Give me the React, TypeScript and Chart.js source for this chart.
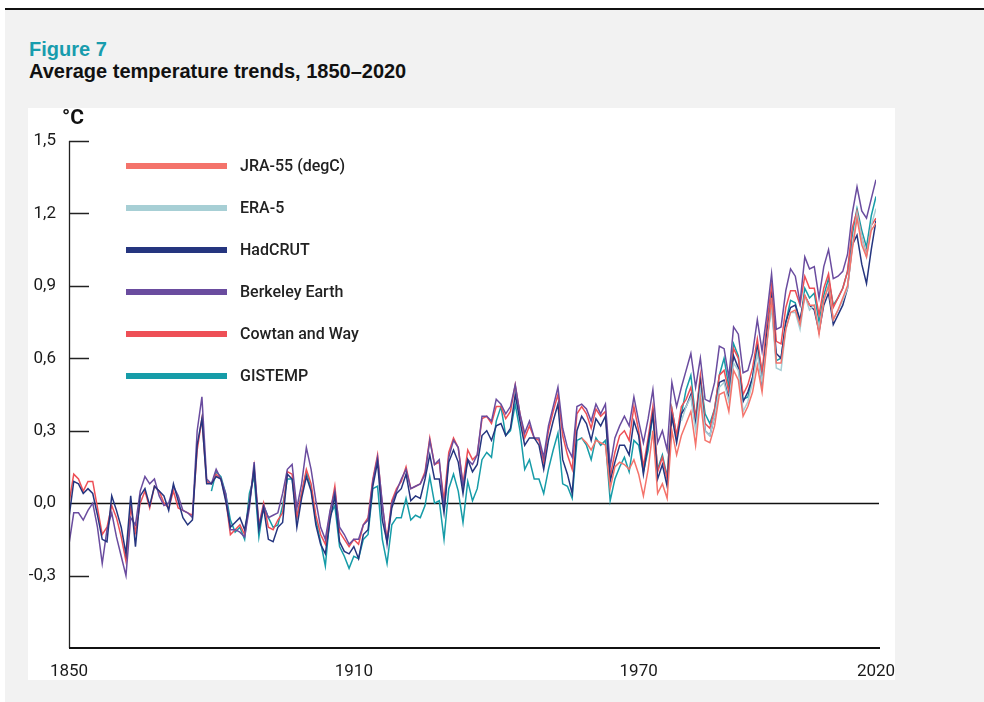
import React, { useEffect, useRef } from "react";
import { Chart, registerables } from "chart.js";

Chart.register(...registerables);

// ---- data ----
const seriesNames = ["JRA-55 (degC)", "ERA-5", "HadCRUT", "Berkeley Earth", "Cowtan and Way", "GISTEMP"];
const seriesColors = ["#f4736b", "#a7cfd5", "#25357f", "#6a4c9f", "#ee4f56", "#169ca8"];
const seriesStart = [1958, 1979, 1850, 1850, 1850, 1880];

const jra55 = [
  0.27, 0.25, 0.22, 0.26, 0.25, 0.24, 0.06, 0.15, 0.17, 0.16, 0.14, 0.18,
  0.12, 0.03, 0.14, 0.30, 0.04, 0.08, 0.02, 0.30, 0.20, 0.28,
  0.33, 0.38, 0.24, 0.43, 0.26, 0.25, 0.32, 0.45, 0.46, 0.38,
  0.55, 0.51, 0.36, 0.40, 0.46, 0.57, 0.46, 0.66, 0.85, 0.58,
  0.58, 0.72, 0.79, 0.80, 0.74, 0.86, 0.82, 0.82, 0.70, 0.84,
  0.90, 0.76, 0.80, 0.85, 0.90, 1.05, 1.18, 1.07, 1.02, 1.13,
  1.16,
];

const era5 = [
  0.34,
  0.40, 0.44, 0.30, 0.47, 0.30, 0.28, 0.36, 0.48, 0.50, 0.42,
  0.58, 0.55, 0.38, 0.42, 0.50, 0.62, 0.50, 0.66, 0.82, 0.56,
  0.55, 0.72, 0.79, 0.79, 0.72, 0.86, 0.80, 0.82, 0.72, 0.84,
  0.90, 0.76, 0.80, 0.84, 0.89, 1.06, 1.20, 1.10, 1.02, 1.15,
  1.22,
];

const hadcrut = [
  -0.06, 0.09, 0.08, 0.04, 0.06, 0.04, -0.05, -0.15, -0.16, 0.03,
  -0.03, -0.10, -0.21, 0.03, -0.18, 0.03, 0.06, -0.01, 0.07, 0.05,
  0.03, -0.03, 0.08, 0.01, -0.06, -0.09, -0.07, 0.24, 0.35, 0.08,
  0.08, 0.11, 0.10, 0.01, -0.10, -0.08, -0.06, -0.11, 0.00, 0.14,
  -0.11, -0.02, -0.15, -0.16, -0.10, -0.08, 0.12, 0.10, -0.10, 0.02,
  0.11, 0.05, -0.09, -0.17, -0.21, -0.07, 0.03, -0.16, -0.20, -0.21,
  -0.18, -0.23, -0.13, -0.11, 0.07, 0.17, -0.07, -0.16, -0.02, 0.04,
  0.06, 0.12, 0.01, 0.03, 0.02, 0.10, 0.20, 0.10, 0.10, -0.04,
  0.17, 0.22, 0.17, 0.04, 0.18, 0.13, 0.16, 0.28, 0.30, 0.26,
  0.32, 0.33, 0.28, 0.31, 0.45, 0.34, 0.24, 0.27, 0.27, 0.24,
  0.14, 0.26, 0.34, 0.41, 0.18, 0.12, 0.04, 0.30, 0.36, 0.33,
  0.26, 0.35, 0.32, 0.36, 0.09, 0.17, 0.24, 0.24, 0.20, 0.34,
  0.28, 0.12, 0.25, 0.37, 0.10, 0.16, 0.07, 0.36, 0.25, 0.37,
  0.40, 0.45, 0.32, 0.50, 0.30, 0.28, 0.36, 0.50, 0.51, 0.43,
  0.61, 0.56, 0.42, 0.46, 0.52, 0.64, 0.49, 0.70, 0.85, 0.62,
  0.60, 0.75, 0.81, 0.82, 0.76, 0.86, 0.82, 0.80, 0.71, 0.82,
  0.87, 0.74, 0.78, 0.82, 0.89, 1.07, 1.11, 0.99, 0.91, 1.05,
  1.17,
];

const berkeley = [
  -0.17, -0.04, -0.04, -0.07, -0.03, 0.00, -0.10, -0.25, -0.11, -0.04,
  -0.14, -0.22, -0.30, -0.06, -0.09, 0.05, 0.11, 0.08, 0.10, 0.03,
  -0.01, 0.00, 0.07, 0.03, -0.03, -0.04, -0.06, 0.30, 0.44, 0.10,
  0.08, 0.14, 0.10, 0.04, -0.11, -0.11, -0.12, -0.14, -0.02, 0.17,
  -0.10, -0.01, -0.06, -0.05, -0.04, 0.04, 0.14, 0.16, -0.02, 0.08,
  0.23, 0.14, 0.01, -0.10, -0.15, -0.03, 0.05, -0.10, -0.13, -0.17,
  -0.15, -0.15, -0.09, -0.07, 0.09, 0.19, 0.00, -0.17, 0.00, 0.05,
  0.10, 0.14, 0.06, 0.07, 0.08, 0.12, 0.26, 0.16, 0.18, -0.03,
  0.19, 0.26, 0.23, 0.07, 0.18, 0.16, 0.20, 0.36, 0.36, 0.34,
  0.43, 0.41, 0.37, 0.40, 0.49, 0.37, 0.29, 0.34, 0.27, 0.27,
  0.19, 0.32, 0.40, 0.48, 0.31, 0.23, 0.19, 0.40, 0.41, 0.39,
  0.34, 0.41, 0.37, 0.41, 0.15, 0.27, 0.32, 0.36, 0.32, 0.44,
  0.34, 0.25, 0.35, 0.47, 0.25, 0.30, 0.22, 0.50, 0.40, 0.48,
  0.55, 0.62, 0.48, 0.60, 0.43, 0.42, 0.50, 0.65, 0.64, 0.52,
  0.73, 0.70, 0.54, 0.55, 0.62, 0.76, 0.63, 0.78, 0.95, 0.72,
  0.73, 0.88, 0.97, 0.94, 0.83, 1.02, 0.97, 0.98, 0.85, 0.98,
  1.05, 0.93, 0.94, 0.96, 1.03, 1.20, 1.31, 1.21, 1.18, 1.26,
  1.34,
];

const cowtanWay = [
  0.00, 0.12, 0.10, 0.05, 0.09, 0.09, -0.02, -0.13, -0.10, -0.01,
  -0.06, -0.14, -0.24, -0.02, -0.12, 0.00, 0.05, -0.02, 0.07, 0.05,
  0.00, -0.02, 0.05, -0.02, -0.03, -0.04, -0.05, 0.22, 0.35, 0.09,
  0.08, 0.12, 0.10, 0.02, -0.13, -0.11, -0.09, -0.13, 0.00, 0.15,
  -0.09, 0.00, -0.10, -0.11, -0.07, -0.04, 0.13, 0.12, -0.06, 0.04,
  0.14, 0.08, -0.05, -0.13, -0.17, -0.04, 0.07, -0.12, -0.15, -0.18,
  -0.15, -0.17, -0.09, -0.06, 0.10, 0.20, -0.01, -0.15, 0.01, 0.06,
  0.09, 0.15, 0.06, 0.07, 0.08, 0.13, 0.27, 0.16, 0.17, 0.01,
  0.21, 0.27, 0.23, 0.08, 0.22, 0.18, 0.20, 0.35, 0.36, 0.33,
  0.40, 0.40, 0.35, 0.38, 0.49, 0.37, 0.27, 0.32, 0.27, 0.26,
  0.17, 0.30, 0.38, 0.45, 0.28, 0.20, 0.14, 0.37, 0.40, 0.37,
  0.31, 0.39, 0.36, 0.38, 0.11, 0.21, 0.28, 0.30, 0.26, 0.40,
  0.30, 0.15, 0.27, 0.40, 0.13, 0.19, 0.10, 0.39, 0.28, 0.40,
  0.43, 0.48, 0.35, 0.53, 0.33, 0.31, 0.39, 0.53, 0.55, 0.46,
  0.64, 0.60, 0.45, 0.49, 0.56, 0.68, 0.54, 0.74, 0.90, 0.67,
  0.66, 0.81, 0.88, 0.88, 0.82, 0.94, 0.89, 0.89, 0.78, 0.89,
  0.95, 0.81, 0.85, 0.89, 0.96, 1.14, 1.21, 1.10, 1.03, 1.15,
  1.18,
];

const gistemp = [
  0.05, 0.13, 0.11, 0.04, -0.07, -0.12, -0.10, -0.15, 0.04, 0.11,
  -0.14, -0.01, -0.06, -0.10, -0.09, -0.01, 0.10, 0.10, -0.06, 0.04,
  0.13, 0.06, -0.07, -0.16, -0.26, -0.05, -0.01, -0.18, -0.22, -0.27,
  -0.22, -0.23, -0.15, -0.13, 0.06, 0.07, -0.15, -0.25, -0.09, -0.06,
  -0.06, 0.02, -0.07, -0.05, -0.06, -0.01, 0.11, 0.00, 0.01, -0.15,
  0.06, 0.12, 0.05, -0.08, 0.09, 0.01, 0.06, 0.18, 0.21, 0.19,
  0.34, 0.40, 0.28, 0.30, 0.41, 0.30, 0.14, 0.18, 0.10, 0.10,
  0.04, 0.14, 0.22, 0.29, 0.08, 0.07, 0.02, 0.26, 0.27, 0.24,
  0.18, 0.27, 0.24, 0.26, 0.01, 0.10, 0.15, 0.19, 0.13, 0.26,
  0.24, 0.13, 0.22, 0.37, 0.14, 0.20, 0.11, 0.39, 0.28, 0.37,
  0.47, 0.53, 0.35, 0.52, 0.37, 0.33, 0.39, 0.53, 0.60, 0.48,
  0.66, 0.61, 0.43, 0.44, 0.52, 0.66, 0.54, 0.67, 0.82, 0.59,
  0.60, 0.75, 0.84, 0.83, 0.74, 0.89, 0.85, 0.87, 0.75, 0.86,
  0.93, 0.82, 0.85, 0.89, 0.96, 1.11, 1.22, 1.13, 1.06, 1.19,
  1.27,
];

const seriesValues = [jra55, era5, hadcrut, berkeley, cowtanWay, gistemp];

const xTickYears = [1850, 1910, 1970, 2020];
const yTickValues = [1.5, 1.2, 0.9, 0.6, 0.3, 0.0, -0.3];
const yMin = -0.6;
const yMax = 1.5;

const TITLE_FONT = '"Liberation Sans", Arial, Helvetica, sans-serif';
const TEXT_FONT = 'Roboto, "Noto Sans", sans-serif';

const axisDecor = {
  id: "axisDecor",
  beforeDatasetsDraw(chart: any) {
    const { ctx, chartArea, scales } = chart;
    const y0 = Math.round(scales.y.getPixelForValue(0)) + 0.5;
    ctx.save();
    ctx.strokeStyle = "#111";
    ctx.lineWidth = 1.6;
    ctx.beginPath();
    ctx.moveTo(chartArea.left, y0);
    ctx.lineTo(chartArea.right + 3, y0);
    ctx.stroke();
    ctx.restore();
  },
  afterDraw(chart: any) {
    const { ctx, chartArea, scales } = chart;
    ctx.save();
    ctx.strokeStyle = "#222";
    ctx.lineWidth = 1.3;
    ctx.beginPath();
    ctx.moveTo(chartArea.left + 0.5, chartArea.top);
    ctx.lineTo(chartArea.left + 0.5, chartArea.bottom);
    ctx.stroke();
    yTickValues.forEach((v) => {
      if (v === 0) return;
      const py = Math.round(scales.y.getPixelForValue(v)) + 0.5;
      ctx.strokeStyle = "#222";
      ctx.lineWidth = 1.5;
      ctx.beginPath();
      ctx.moveTo(chartArea.left, py);
      ctx.lineTo(chartArea.left + 20, py);
      ctx.stroke();
    });
    ctx.strokeStyle = "#111";
    ctx.lineWidth = 2;
    ctx.beginPath();
    ctx.moveTo(chartArea.left, chartArea.bottom);
    ctx.lineTo(chartArea.right + 4, chartArea.bottom);
    ctx.stroke();
    ctx.restore();
  },
};

function TempChart() {
  const ref = useRef<HTMLCanvasElement | null>(null);
  useEffect(() => {
    if (!ref.current) return;
    const datasets = seriesNames.map((name, i) => ({
      label: name,
      data: seriesValues[i].map((v, k) => ({ x: seriesStart[i] + k, y: v })),
      borderColor: seriesColors[i],
      backgroundColor: seriesColors[i],
      borderWidth: 1.5,
      pointRadius: 0,
      tension: 0,
      fill: false,
    }));
    const chart = new Chart(ref.current, {
      type: "line",
      data: { datasets },
      plugins: [axisDecor],
      options: {
        animation: false,
        responsive: false,
        devicePixelRatio: 1,
        layout: { padding: { top: 33, right: 19, bottom: 0, left: 0 } },
        plugins: { legend: { display: false }, tooltip: { enabled: false } },
        scales: {
          x: {
            type: "linear",
            min: 1850,
            max: 2020,
            grid: { display: false, drawTicks: false },
            border: { display: false },
            afterBuildTicks: (s: any) => {
              s.ticks = xTickYears.map((v) => ({ value: v }));
            },
            afterFit: (s: any) => {
              s.height = 32;
              s.paddingLeft = 0;
              s.paddingRight = 0;
            },
            ticks: {
              padding: 14,
              maxRotation: 0,
              autoSkip: false,
              color: "#1a1a1a",
              font: { family: TEXT_FONT, size: 17 },
              callback: (v: any) => String(v),
            },
          },
          y: {
            type: "linear",
            min: yMin,
            max: yMax,
            grid: { display: false, drawTicks: false },
            border: { display: false },
            afterBuildTicks: (s: any) => {
              s.ticks = yTickValues.map((v) => ({ value: v }));
            },
            afterFit: (s: any) => {
              s.width = 41;
              s.paddingTop = 0;
              s.paddingBottom = 0;
            },
            ticks: {
              padding: 13,
              autoSkip: false,
              color: "#1a1a1a",
              font: { family: TEXT_FONT, size: 17 },
              callback: (v: any) => Number(v).toFixed(1).replace(".", ","),
            },
          },
        },
      },
    });
    return () => chart.destroy();
  }, []);
  return <canvas ref={ref} width={867} height={572} style={{ display: "block", width: 867, height: 572 }} />;
}

export default function App() {
  const legendTop = 165.7;
  const legendStep = 42;
  return (
    <div style={{ position: "absolute", left: 0, top: 0, width: 984, height: 702, background: "#fff", overflow: "hidden" }}>
      <div style={{ position: "absolute", left: 5, top: 10, width: 979, height: 692, background: "#f2f2f2" }} />
      <div style={{ position: "absolute", left: 5, top: 8, width: 979, height: 1.5, background: "#111" }} />
      <div style={{ position: "absolute", left: 29, top: 39, font: `bold 20px ${TITLE_FONT}`, lineHeight: "20px", color: "#189cad", whiteSpace: "nowrap" }}>
        Figure 7
      </div>
      <div style={{ position: "absolute", left: 29, top: 61, font: `bold 20px ${TITLE_FONT}`, lineHeight: "20px", color: "#111", whiteSpace: "nowrap" }}>
        Average temperature trends, 1850–2020
      </div>
      <div style={{ position: "absolute", left: 28, top: 108, width: 867, height: 572, background: "#fff" }}>
        <TempChart />
      </div>
      <div style={{ position: "absolute", left: 62, top: 107, font: `bold 21px ${TEXT_FONT}`, lineHeight: "21px", color: "#111", whiteSpace: "nowrap" }}>
        °C
      </div>
      {seriesNames.map((name, i) => {
        const cy = legendTop + i * legendStep;
        return (
          <React.Fragment key={name}>
            <div style={{ position: "absolute", left: 126, top: cy - 3, width: 101, height: 6, background: seriesColors[i] }} />
            <div style={{ position: "absolute", left: 240, top: cy - 7.8, font: `500 16px ${TEXT_FONT}`, lineHeight: "16px", color: "#222", whiteSpace: "nowrap" }}>
              {name}
            </div>
          </React.Fragment>
        );
      })}
    </div>
  );
}
